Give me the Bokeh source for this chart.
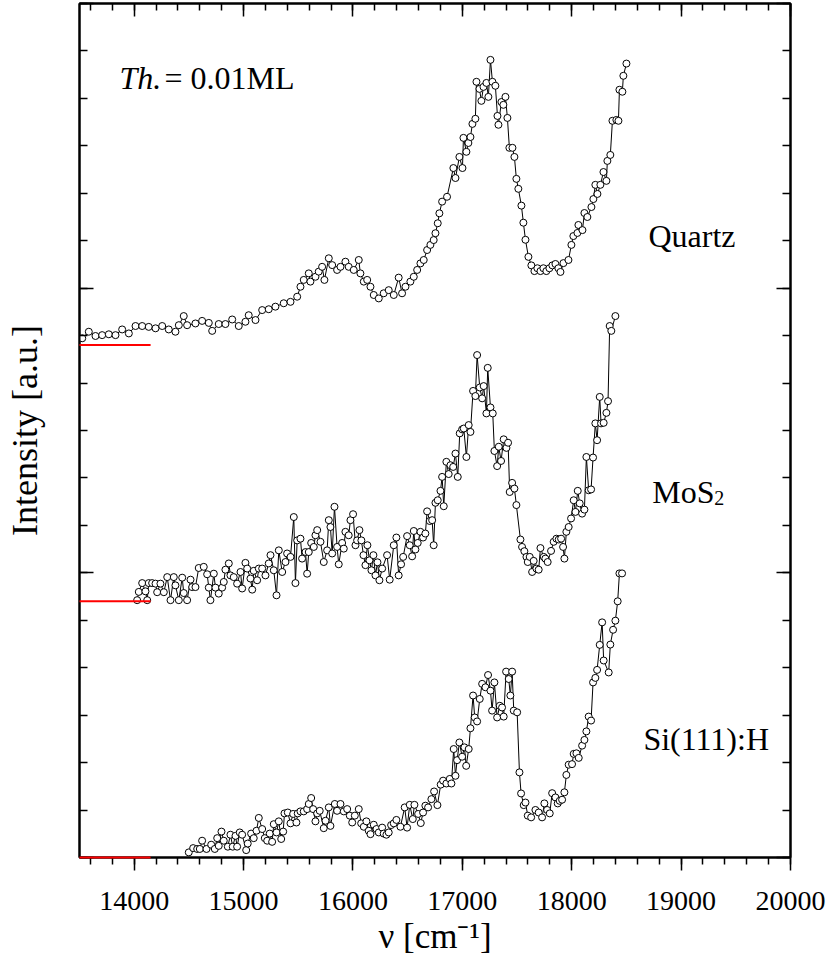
from bokeh.plotting import figure
from bokeh.models import Range1d, LinearAxis, SingleIntervalTicker, Label, CustomJSTickFormatter
from bokeh.embed import file_html
from bokeh.resources import INLINE

# ---------------- data (wavenumber in cm^-1, intensity in a.u. above each baseline) -------------
quartz_x = [13525, 13585, 13646, 13707, 13768, 13829, 13890, 13951, 14012, 14073, 14133, 14195,
            14256, 14316, 14377, 14408, 14453, 14484, 14560, 14621, 14682, 14713, 14773, 14834,
            14896, 14956, 15017, 15047, 15109, 15170, 15230, 15291, 15367, 15429, 15490, 15520,
            15550, 15596, 15611, 15657, 15687, 15718, 15739, 15779, 15810, 15855, 15886, 15931,
            15961, 16007, 16053, 16068, 16099, 16130, 16160, 16190, 16236, 16281, 16327, 16373,
            16418, 16449, 16480, 16525, 16556, 16587, 16617, 16647, 16678, 16708, 16738, 16754,
            16775, 16790, 16815, 16860, 16918, 16937, 16973, 17001, 17010, 17037, 17055, 17074,
            17092, 17119, 17129, 17156, 17174, 17193, 17220, 17238, 17257, 17275, 17302, 17321,
            17330, 17357, 17375, 17394, 17412, 17430, 17458, 17476, 17494, 17512, 17540, 17558,
            17577, 17604, 17631, 17659, 17686, 17714, 17741, 17768, 17796, 17823, 17851, 17878,
            17897, 17924, 17970, 17997, 18015, 18052, 18061, 18098, 18116, 18143, 18180, 18198,
            18216, 18235, 18262, 18290, 18317, 18326, 18353, 18372, 18408, 18427, 18436, 18463,
            18472, 18500]
quartz_y = [0.024, 0.047, 0.032, 0.035, 0.038, 0.035, 0.055, 0.041, 0.067, 0.067, 0.064, 0.059,
            0.067, 0.055, 0.047, 0.070, 0.102, 0.070, 0.076, 0.085, 0.078, 0.050, 0.074, 0.074,
            0.090, 0.067, 0.082, 0.105, 0.088, 0.123, 0.126, 0.135, 0.147, 0.152, 0.170, 0.205,
            0.229, 0.252, 0.223, 0.240, 0.258, 0.275, 0.229, 0.305, 0.281, 0.264, 0.275, 0.293,
            0.275, 0.264, 0.299, 0.252, 0.223, 0.229, 0.205, 0.176, 0.164, 0.182, 0.193, 0.176,
            0.237, 0.182, 0.205, 0.223, 0.240, 0.264, 0.287, 0.299, 0.334, 0.352, 0.369, 0.393,
            0.428, 0.463, 0.504, 0.521, 0.622, 0.587, 0.661, 0.622, 0.728, 0.679, 0.710, 0.731,
            0.777, 0.795, 0.925, 0.900, 0.858, 0.907, 0.921, 0.872, 1.002, 0.925, 0.911, 0.805,
            0.774, 0.854, 0.844, 0.872, 0.798, 0.693, 0.693, 0.661, 0.584, 0.549, 0.490, 0.430,
            0.370, 0.310, 0.280, 0.260, 0.270, 0.260, 0.270, 0.260, 0.270, 0.280, 0.285, 0.270,
            0.257, 0.288, 0.299, 0.352, 0.383, 0.394, 0.422, 0.404, 0.464, 0.450, 0.485, 0.513,
            0.563, 0.531, 0.563, 0.608, 0.577, 0.647, 0.668, 0.788, 0.791, 0.788, 0.897, 0.890,
            0.946, 0.989]

mos2_x = [14027, 14042, 14073, 14103, 14119, 14133, 14164, 14195, 14210, 14240, 14271, 14302,
          14332, 14362, 14377, 14408, 14439, 14453, 14484, 14515, 14530, 14560, 14590, 14636,
          14667, 14682, 14697, 14728, 14743, 14773, 14804, 14819, 14834, 14865, 14880, 14910,
          14941, 14972, 14987, 15017, 15033, 15063, 15079, 15093, 15124, 15139, 15170, 15200,
          15230, 15246, 15276, 15301, 15322, 15353, 15383, 15398, 15429, 15459, 15474, 15490,
          15520, 15535, 15566, 15581, 15596, 15618, 15642, 15657, 15673, 15703, 15733, 15764,
          15779, 15794, 15810, 15831, 15855, 15870, 15901, 15916, 15931, 15961, 15977, 16001,
          16023, 16038, 16059, 16077, 16096, 16114, 16132, 16151, 16169, 16187, 16206, 16224,
          16242, 16267, 16312, 16336, 16373, 16397, 16418, 16440, 16459, 16495, 16519, 16541,
          16556, 16571, 16592, 16617, 16641, 16662, 16678, 16702, 16724, 16738, 16754, 16775,
          16800, 16815, 16830, 16854, 16875, 16891, 16916, 16937, 16958, 16976, 16998, 17013,
          17037, 17058, 17074, 17098, 17119, 17135, 17159, 17181, 17195, 17220, 17232, 17257,
          17278, 17293, 17318, 17333, 17354, 17378, 17403, 17418, 17433, 17455, 17476, 17494,
          17531, 17546, 17567, 17586, 17598, 17616, 17638, 17652, 17677, 17698, 17714, 17744,
          17759, 17780, 17811, 17835, 17860, 17881, 17903, 17921, 17933, 17951, 17972, 17994,
          18018, 18034, 18055, 18073, 18095, 18116, 18134, 18155, 18177, 18195, 18216, 18232,
          18256, 18268, 18292, 18317, 18332, 18347, 18362, 18399]
mos2_y = [0.004, 0.033, 0.064, 0.035, 0.004, 0.064, 0.064, 0.062, 0.032, 0.062, 0.032, 0.085,
          0.004, 0.085, 0.056, 0.004, 0.083, 0.029, 0.004, 0.076, 0.050, 0.050, 0.117, 0.121,
          0.095, 0.048, 0.004, 0.097, 0.048, 0.027, 0.048, 0.068, 0.111, 0.133, 0.091, 0.085,
          0.062, 0.103, 0.045, 0.135, 0.115, 0.080, 0.041, 0.107, 0.074, 0.115, 0.115, 0.091,
          0.133, 0.162, 0.109, 0.021, 0.179, 0.103, 0.138, 0.168, 0.156, 0.296, 0.064, 0.214,
          0.220, 0.150, 0.173, 0.097, 0.173, 0.205, 0.191, 0.232, 0.250, 0.209, 0.138, 0.179,
          0.285, 0.261, 0.168, 0.332, 0.191, 0.130, 0.205, 0.185, 0.244, 0.232, 0.285, 0.306,
          0.197, 0.214, 0.250, 0.214, 0.162, 0.127, 0.197, 0.144, 0.109, 0.162, 0.091, 0.137,
          0.074, 0.115, 0.162, 0.076, 0.197, 0.224, 0.091, 0.130, 0.156, 0.229, 0.197, 0.158,
          0.247, 0.182, 0.205, 0.244, 0.224, 0.238, 0.316, 0.282, 0.285, 0.197, 0.346, 0.355,
          0.388, 0.437, 0.334, 0.490, 0.447, 0.478, 0.472, 0.519, 0.437, 0.590, 0.604, 0.607,
          0.507, 0.619, 0.595, 0.739, 0.721, 0.865, 0.751, 0.713, 0.756, 0.660, 0.820, 0.681,
          0.660, 0.528, 0.475, 0.543, 0.493, 0.569, 0.539, 0.557, 0.384, 0.416, 0.396, 0.338,
          0.217, 0.191, 0.176, 0.156, 0.138, 0.156, 0.103, 0.142, 0.115, 0.111, 0.187, 0.156,
          0.150, 0.138, 0.177, 0.209, 0.220, 0.217, 0.220, 0.191, 0.150, 0.244, 0.261, 0.291,
          0.355, 0.314, 0.388, 0.344, 0.308, 0.322, 0.507, 0.390, 0.393, 0.505, 0.625, 0.566,
          0.718, 0.625, 0.627, 0.662, 0.703, 0.967, 0.950, 1.002]

si_x = [14499, 14539, 14576, 14600, 14621, 14661, 14704, 14737, 14759, 14773, 14798, 14819,
        14856, 14880, 14901, 14926, 14941, 14965, 14987, 15024, 15038, 15069, 15093, 15118,
        15139, 15170, 15194, 15216, 15239, 15261, 15276, 15301, 15322, 15344, 15362, 15374,
        15404, 15429, 15453, 15483, 15495, 15520, 15550, 15581, 15596, 15618, 15636, 15657,
        15673, 15696, 15733, 15749, 15779, 15794, 15834, 15855, 15886, 15916, 15947, 15971,
        15993, 16017, 16053, 16075, 16099, 16123, 16144, 16160, 16190, 16215, 16236, 16267,
        16281, 16306, 16327, 16349, 16373, 16397, 16434, 16473, 16495, 16519, 16547, 16562,
        16596, 16620, 16641, 16662, 16687, 16717, 16742, 16772, 16802, 16824, 16854, 16885,
        16900, 16921, 16937, 16952, 16973, 16998, 17019, 17035, 17058, 17074, 17098, 17113,
        17135, 17159, 17181, 17211, 17235, 17257, 17272, 17293, 17318, 17342, 17363, 17378,
        17400, 17424, 17439, 17455, 17470, 17501, 17522, 17537, 17561, 17577, 17598, 17629,
        17668, 17698, 17729, 17750, 17775, 17799, 17821, 17851, 17872, 17890, 17912, 17933,
        17951, 17972, 18003, 18018, 18043, 18064, 18095, 18116, 18134, 18155, 18177, 18195,
        18216, 18232, 18256, 18278, 18292, 18338, 18353, 18378, 18399, 18420, 18436, 18460]
si_y = [0.018, 0.033, 0.030, 0.030, 0.059, 0.030, 0.045, 0.030, 0.068, 0.041, 0.091, 0.059,
        0.038, 0.080, 0.038, 0.076, 0.038, 0.088, 0.080, 0.026, 0.049, 0.084, 0.068, 0.094,
        0.139, 0.100, 0.068, 0.059, 0.084, 0.055, 0.117, 0.088, 0.127, 0.065, 0.091, 0.155,
        0.158, 0.120, 0.153, 0.123, 0.155, 0.162, 0.162, 0.170, 0.188, 0.209, 0.170, 0.127,
        0.155, 0.164, 0.103, 0.129, 0.176, 0.111, 0.188, 0.164, 0.188, 0.162, 0.170, 0.147,
        0.123, 0.147, 0.170, 0.120, 0.108, 0.127, 0.094, 0.082, 0.115, 0.100, 0.088, 0.105,
        0.084, 0.080, 0.088, 0.114, 0.120, 0.132, 0.108, 0.176, 0.105, 0.185, 0.135, 0.185,
        0.153, 0.121, 0.158, 0.182, 0.176, 0.205, 0.232, 0.184, 0.256, 0.270, 0.260, 0.276,
        0.260, 0.381, 0.287, 0.342, 0.404, 0.354, 0.387, 0.322, 0.381, 0.454, 0.569, 0.492,
        0.478, 0.557, 0.610, 0.598, 0.641, 0.586, 0.516, 0.615, 0.492, 0.533, 0.527, 0.495,
        0.653, 0.627, 0.569, 0.653, 0.516, 0.510, 0.299, 0.225, 0.184, 0.193, 0.147, 0.141,
        0.167, 0.158, 0.141, 0.190, 0.167, 0.155, 0.226, 0.211, 0.190, 0.199, 0.203, 0.229,
        0.290, 0.326, 0.328, 0.364, 0.366, 0.350, 0.393, 0.413, 0.443, 0.495, 0.481, 0.615,
        0.631, 0.659, 0.747, 0.826, 0.692, 0.650, 0.748, 0.800, 0.832, 0.900, 0.998, 0.998]

series_names = ["Quartz", "MoS2", "Si(111):H"]
series_offsets = [1.8, 0.9, 0.0]          # vertical stacking offsets (baselines)
baseline_span = [13500, 14150]            # red baseline markers

FONT = "Liberation Serif"

p = figure(width=831, height=958, x_range=Range1d(13500, 20000), y_range=Range1d(0, 3),
           output_backend="svg", toolbar_location=None,
           x_axis_location=None, y_axis_location=None,
           min_border_left=79, min_border_right=41, min_border_top=3, min_border_bottom=101)
p.xgrid.grid_line_color = None
p.ygrid.grid_line_color = None
p.outline_line_color = "black"
p.outline_line_width = 2
p.background_fill_color = "white"
p.border_fill_color = "white"

blank = CustomJSTickFormatter(code="return '';")


def style_axis(ax, side):
    ax.axis_line_width = 2
    ax.axis_line_color = "black"
    ax.major_tick_line_width = 1.5
    ax.minor_tick_line_width = 1.5
    ax.major_tick_line_color = "black"
    ax.minor_tick_line_color = "black"
    if side == "below":
        ax.major_tick_in, ax.major_tick_out = 0, 13
        ax.minor_tick_in, ax.minor_tick_out = 0, 7
        ax.major_label_text_font = FONT
        ax.major_label_text_font_size = "28px"
        ax.major_label_text_color = "black"
        ax.major_label_standoff = 21
        ax.axis_label = "ν [cm⁻¹]"
        ax.axis_label_text_font = FONT
        ax.axis_label_text_font_size = "35px"
        ax.axis_label_text_font_style = "normal"
        ax.axis_label_text_color = "black"
        ax.axis_label_standoff = 4
    else:
        big, small = (13, 7) if side == "above" else (14, 8)
        ax.major_tick_in, ax.major_tick_out = big, 0
        ax.minor_tick_in, ax.minor_tick_out = small, 0
        ax.formatter = blank
        ax.major_label_standoff = 0


for side in ["below", "above"]:
    ax = LinearAxis(ticker=SingleIntervalTicker(interval=1000, num_minor_ticks=5))
    style_axis(ax, side)
    p.add_layout(ax, side)

for side in ["left", "right"]:
    ax = LinearAxis(ticker=SingleIntervalTicker(interval=1, num_minor_ticks=6))
    style_axis(ax, side)
    if side == "left":
        ax.axis_label = "Intensity [a.u.]"
        ax.axis_label_text_font = FONT
        ax.axis_label_text_font_size = "36px"
        ax.axis_label_text_font_style = "normal"
        ax.axis_label_text_color = "black"
        ax.axis_label_standoff = 35
    p.add_layout(ax, side)

all_x = [quartz_x, mos2_x, si_x]
all_y = [quartz_y, mos2_y, si_y]
for xs, ys, off in zip(all_x, all_y, series_offsets):
    yy = [v + off for v in ys]
    p.line(xs, yy, line_color="black", line_width=1)
    p.scatter(xs, yy, marker="circle", size=7, fill_color="white", line_color="black", line_width=1)
    p.line(baseline_span, [off, off], line_color="red", line_width=2, level="overlay")


def add_label(x, y, text, size, style="normal", align="left"):
    p.add_layout(Label(x=x, y=y, text=text, text_font=FONT, text_font_size=size,
                       text_font_style=style, text_color="black", text_align=align,
                       text_baseline="alphabetic"))


add_label(13866, 2.737, "Th.", "32px", style="italic")
add_label(14277, 2.737, "= 0.01ML", "32px")
add_label(18701, 2.182, "Quartz", "32px")
add_label(18737, 1.283, "MoS", "32px")
add_label(19304, 1.262, "2", "20px")
add_label(18655, 0.416, "Si(111):H", "32px")

open("out.html", "w").write(file_html(p, INLINE))
